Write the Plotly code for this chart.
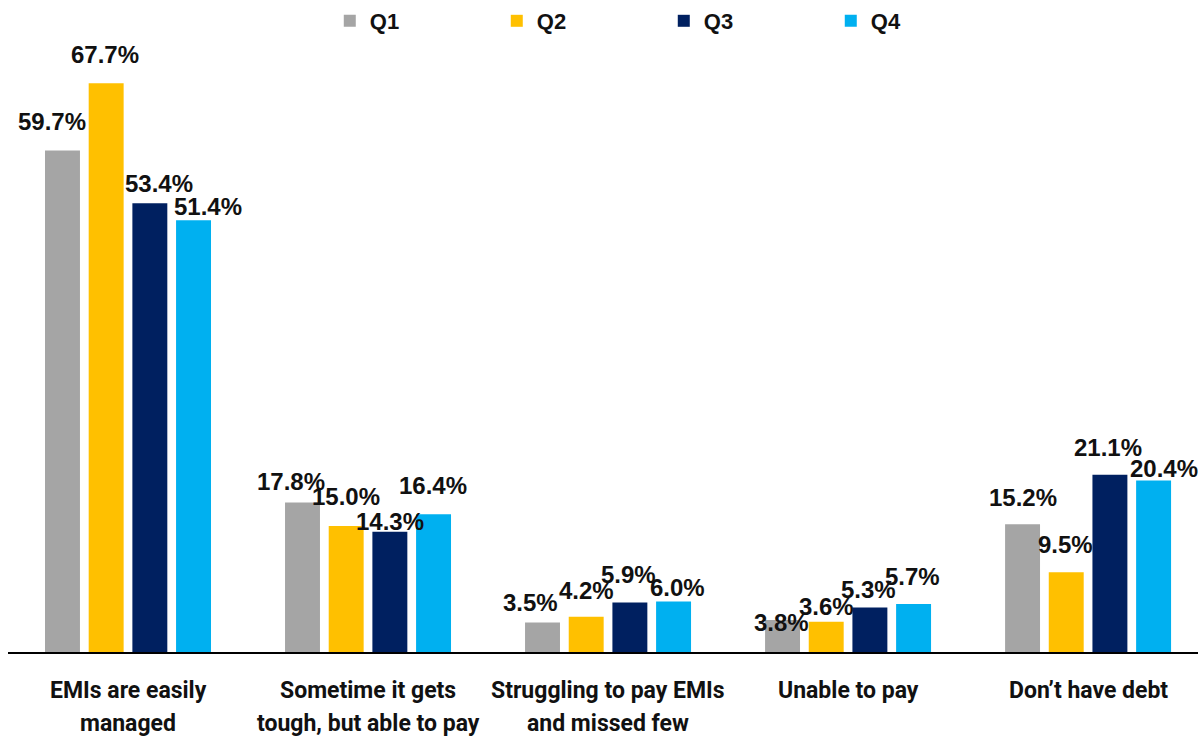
import plotly.graph_objects as go

# Survey responses on loan repayment, share of respondents by quarter (%)
categories = [
    "EMIs are easily<br>managed",
    "Sometime it gets<br>tough, but able to pay",
    "Struggling to pay EMIs<br>and missed few",
    "Unable to pay",
    "Don\u2019t have debt",
]
quarters = ["Q1", "Q2", "Q3", "Q4"]
q1_values = [59.7, 17.8, 3.5, 3.8, 15.2]
q2_values = [67.7, 15.0, 4.2, 3.6, 9.5]
q3_values = [53.4, 14.3, 5.9, 5.3, 21.1]
q4_values = [51.4, 16.4, 6.0, 5.7, 20.4]

series_values = [q1_values, q2_values, q3_values, q4_values]
colors = ["#A5A5A5", "#FFC000", "#002060", "#00B0F0"]

# label nudges in pixels (horizontal shift, height of label centre above bar top)
label_dx = [
    [-10.5, -12, -12, -1, 0],
    [-1.5, 0, 0, 0, -1],
    [9.5, 0, -1, -1.5, -1.5],
    [14.5, -1, 4, -1.5, 10],
]
label_rise = [
    [29, 21, 20, -2, 27],
    [29, 29, 26, 15, 28],
    [20, 10, 28, 18, 27],
    [14, 29, 14, 28, 12],
]

BARGAP = 0.272
BARGROUPGAP = 0.2
n_series = len(quarters)
slot = (1 - BARGAP) / n_series
xpos = list(range(len(categories)))

fig = go.Figure()
for name, vals, col in zip(quarters, series_values, colors):
    fig.add_trace(go.Bar(
        x=xpos, y=vals, name=name,
        marker=dict(color=col, line=dict(width=0)),
        hoverinfo="skip",
    ))

annotations = []
label_font = dict(family="Liberation Sans, Arial, sans-serif", size=24,
                  color="#111111", weight="bold")
for k, vals in enumerate(series_values):
    for i, v in enumerate(vals):
        annotations.append(dict(
            x=i + (k - (n_series - 1) / 2) * slot, y=v,
            xref="x", yref="y",
            text=f"{v:.1f}%", showarrow=False,
            xanchor="center", yanchor="middle",
            xshift=label_dx[k][i], yshift=label_rise[k][i],
            font=label_font,
        ))

# category captions, two lines each with generous line spacing
cat_font = dict(family="Roboto, Noto Sans, sans-serif", size=23,
                color="#111111", weight="bold")
for i, cat in enumerate(categories):
    for j, line in enumerate(cat.split("<br>")):
        annotations.append(dict(
            x=i, y=0, xref="x", yref="paper",
            text=line, showarrow=False,
            xanchor="center", yanchor="middle",
            yshift=-38 - 33 * j,
            font=cat_font,
        ))

fig.update_layout(
    width=1198, height=737,
    margin=dict(l=8, r=0, t=40, b=85),
    paper_bgcolor="white", plot_bgcolor="white",
    barmode="group", bargap=BARGAP, bargroupgap=BARGROUPGAP,
    showlegend=True,
    legend=dict(
        orientation="h", x=0.2704, xanchor="left",
        y=1, yref="container", yanchor="top",
        entrywidth=122,
        font=dict(family="Liberation Sans, Arial, sans-serif", size=22,
                  color="#111111", weight="bold"),
        traceorder="normal",
    ),
    xaxis=dict(
        range=[-0.5, 4.458], tickvals=xpos, showticklabels=False,
        showline=True, linecolor="#000000", linewidth=2,
        ticks="", showgrid=False, zeroline=False, fixedrange=True,
    ),
    yaxis=dict(
        range=[0, 72.6], visible=False, showgrid=False, zeroline=False,
        fixedrange=True,
    ),
    annotations=annotations,
)

fig.write_html("out.html")
